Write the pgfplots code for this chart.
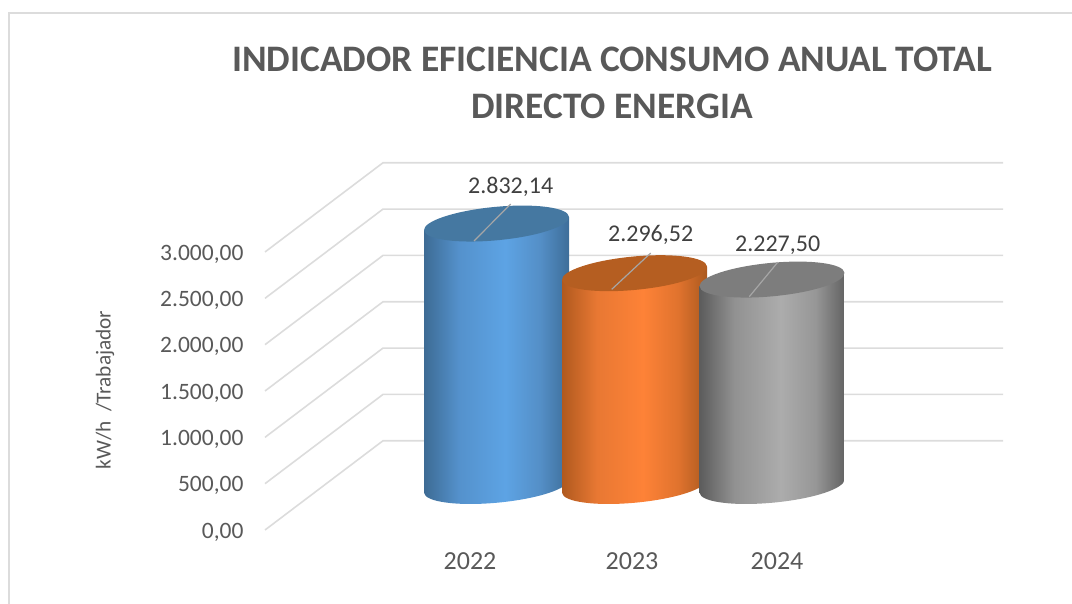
\documentclass[border=0pt]{standalone}
\usepackage{pgfplots}
\pgfplotsset{compat=1.18}
\usepackage{fontspec}
\setmainfont{Carlito}
\definecolor{txt}{HTML}{595959}
\definecolor{lbl}{HTML}{404040}
\definecolor{gridc}{HTML}{DCDCDC}
\definecolor{leader}{HTML}{A6A6A6}
\pgfdeclarehorizontalshading{cylblue}{100bp}{rgb(0bp)=(0.24,0.42,0.58); rgb(25bp)=(0.24,0.42,0.58); rgb(37bp)=(0.33,0.57,0.80); rgb(53bp)=(0.365,0.64,0.895); rgb(65bp)=(0.33,0.56,0.78); rgb(75bp)=(0.24,0.43,0.60); rgb(100bp)=(0.24,0.43,0.60)}
\pgfdeclarehorizontalshading{cylorange}{100bp}{rgb(0bp)=(0.69,0.35,0.12); rgb(25bp)=(0.69,0.35,0.12); rgb(37bp)=(0.91,0.47,0.20); rgb(53bp)=(0.995,0.51,0.215); rgb(65bp)=(0.88,0.45,0.18); rgb(75bp)=(0.67,0.35,0.12); rgb(100bp)=(0.67,0.35,0.12)}
\pgfdeclarehorizontalshading{cylgray}{100bp}{rgb(0bp)=(0.36,0.36,0.36); rgb(25bp)=(0.36,0.36,0.36); rgb(37bp)=(0.57,0.57,0.57); rgb(53bp)=(0.675,0.675,0.675); rgb(65bp)=(0.59,0.59,0.59); rgb(75bp)=(0.39,0.39,0.39); rgb(100bp)=(0.39,0.39,0.39)}
% cylinder mark: the point is the centre of the top face; the body runs down by the value
\newcommand\declcyl[3]{%
 \pgfdeclareplotmark{#1}{%
  \pgfmathsetlengthmacro{\cylh}{\val*0.09267pt}%
  \begin{scope}
   \path[draw=none,clip] (0pt,-\cylh) ellipse [x radius=72.8pt,y radius=16.7pt,rotate=5.4];
   \shade[shading=#2,draw=none] (-72.5pt,-\cylh-30pt) rectangle (72.5pt,-\cylh+30pt);
  \end{scope}
  \begin{scope}
   \path[draw=none,clip] (-72.5pt,-6.5pt) -- (72.5pt,6.5pt) -- (72.5pt,6.5pt-\cylh) -- (-72.5pt,-6.5pt-\cylh) -- cycle;
   \shade[shading=#2,draw=none] (-72.5pt,-\cylh-30pt) rectangle (72.5pt,30pt);
  \end{scope}
  \path[draw=none,fill=#3] (0pt,0pt) ellipse [x radius=72.8pt,y radius=16.7pt,rotate=5.4];
  \pgfusepathqfill
 }}
\definecolor{topA}{rgb}{0.27,0.47,0.63}
\definecolor{topB}{rgb}{0.71,0.37,0.13}
\definecolor{topC}{rgb}{0.49,0.49,0.49}
\declcyl{cylA}{cylblue}{topA}
\declcyl{cylB}{cylorange}{topB}
\declcyl{cylC}{cylgray}{topC}
\pgfplotsset{cyl/.style={scatter,only marks,mark=#1,
  visualization depends on={rawy \as \val},
  scatter/use mapped color={draw=none,fill=none}}}
\begin{document}
\begin{tikzpicture}
% page = 1072 x 604 px, picture origin at pixel (265,530)
\useasboundingbox (-265pt,-74pt) rectangle (807pt,530pt);
\draw[gridc,line width=1.6pt] (-256pt,-74pt) -- (-256pt,517pt) -- (807pt,517pt);
\begin{axis}[
  at={(0pt,0pt)},anchor=south west,
  scale only axis,width=738pt,height=278pt,
  xmin=265,xmax=1003,ymin=0,ymax=3000,clip=false,
  axis line style={draw=none},
  major tick length=0pt,
  ytick={0,500,1000,1500,2000,2500,3000},
  xtick={470,632,777},
  xticklabels={2022,2023,2024},
  ticklabel style={font=\fontsize{23.5}{27}\selectfont,text=txt},
  xticklabel style={yshift=-19pt,font=\fontsize{26}{30}\selectfont},
  yticklabel style={anchor=east,xshift=-18pt,yshift=-2pt,
    /pgf/number format/assume math mode=true,
    /pgf/number format/fixed,/pgf/number format/fixed zerofill,
    /pgf/number format/precision=2,/pgf/number format/use comma,
    /pgf/number format/1000 sep={.}},
  scaled y ticks=false,
]
\addplot[gridc,line width=1.6pt,forget plot] coordinates {(265,0)(383,963)(1003,963)};
\addplot[gridc,line width=1.6pt,forget plot] coordinates {(265,500)(383,1463)(1003,1463)};
\addplot[gridc,line width=1.6pt,forget plot] coordinates {(265,1000)(383,1963)(1003,1963)};
\addplot[gridc,line width=1.6pt,forget plot] coordinates {(265,1500)(383,2463)(1003,2463)};
\addplot[gridc,line width=1.6pt,forget plot] coordinates {(265,2000)(383,2963)(1003,2963)};
\addplot[gridc,line width=1.6pt,forget plot] coordinates {(265,2500)(383,3463)(1003,3463)};
\addplot[gridc,line width=1.6pt,forget plot] coordinates {(265,3000)(383,3963)(1003,3963)};
\end{axis}
\begin{axis}[
  at={(0pt,0pt)},anchor=south west,
  scale only axis,width=738pt,height=278pt,
  xmin=265,xmax=1003,ymin=-474.8,ymax=2525.2,clip=false,hide axis,
]
\addplot[cyl=cylA] coordinates {(496.5,2832.14)};
\addplot[cyl=cylB] coordinates {(634.5,2296.52)};
\addplot[cyl=cylC] coordinates {(772,2227.50)};
\end{axis}
\begin{axis}[
  at={(0pt,0pt)},anchor=south west,
  scale only axis,width=738pt,height=278pt,
  xmin=265,xmax=1003,ymin=-474.8,ymax=2525.2,clip=false,hide axis,
]
\addplot[leader,line width=1.2pt] coordinates {(474,2644)(510.7,3043)};
\addplot[leader,line width=1.2pt] coordinates {(611.7,2122)(650.7,2514)};
\addplot[leader,line width=1.2pt] coordinates {(749.3,2043)(777.7,2414)};
\node[text=lbl,font=\fontsize{24}{28}\selectfont] at (axis cs:510.7,3230) {2.832,14};
\node[text=lbl,font=\fontsize{24}{28}\selectfont] at (axis cs:650.7,2708) {2.296,52};
\node[text=lbl,font=\fontsize{24}{28}\selectfont] at (axis cs:777.7,2600) {2.227,50};
\end{axis}
\node[rotate=90,text=txt,font=\fontsize{21.3}{25}\selectfont] at (-160pt,140pt) {kW/h\ \ /Trabajador};
\node[align=center,text=txt,font=\bfseries\fontsize{37.4}{47}\selectfont] at (347pt,447pt) {INDICADOR EFICIENCIA CONSUMO ANUAL TOTAL\\DIRECTO ENERGIA};
\end{tikzpicture}
\end{document}
